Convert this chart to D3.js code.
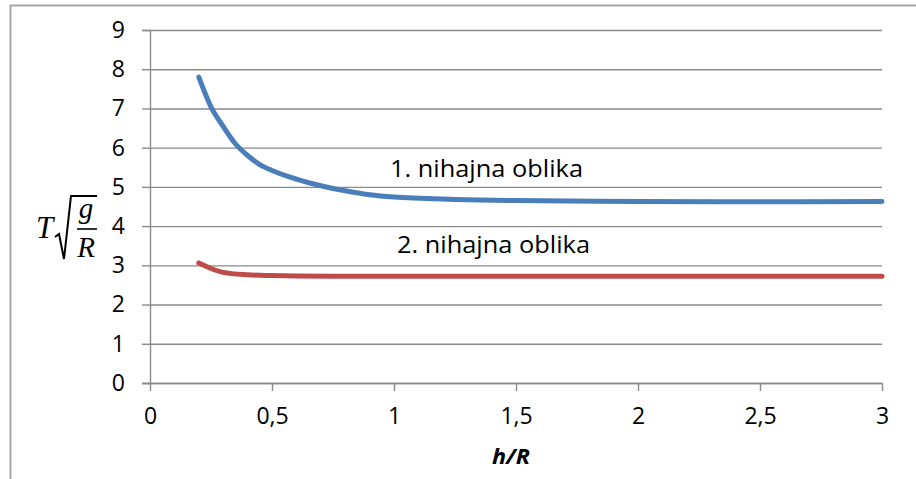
<!DOCTYPE html>
<html>
<head>
<meta charset="utf-8">
<script src="https://cdn.jsdelivr.net/npm/d3@7"></script>
<style>
  html, body { margin: 0; padding: 0; background: #fff; }
  svg { display: block; }
</style>
</head>
<body>
<svg id="chart" width="916" height="479"></svg>
<script>
// Ratio h/R on the horizontal axis
const hMode1 = [0.2, 0.25, 0.3, 0.35, 0.4, 0.45, 0.5, 0.6, 0.7, 0.8, 0.9, 1.0, 1.25, 1.5, 2.0, 2.5, 3.0];
const tMode1 = [7.8, 7.04, 6.54, 6.1, 5.8, 5.57, 5.42, 5.2, 5.03, 4.9, 4.8, 4.74, 4.68, 4.65, 4.63, 4.62, 4.63];

const hMode2 = [0.2, 0.25, 0.3, 0.4, 0.5, 0.6, 0.8, 1.0, 1.5, 2.0, 2.5, 3.0];
const tMode2 = [3.06, 2.92, 2.82, 2.76, 2.74, 2.73, 2.72, 2.72, 2.72, 2.72, 2.72, 2.72];

const xTicks = [0, 0.5, 1, 1.5, 2, 2.5, 3];
const xTickLabels = ["0", "0,5", "1", "1,5", "2", "2,5", "3"];
const yTicks = [0, 1, 2, 3, 4, 5, 6, 7, 8, 9];

const seriesNames = ["1. nihajna oblika", "2. nihajna oblika"];

const svg = d3.select("#chart");
const font = "'Open Sans', Lato, sans-serif";
const gridColor = "#8a8a8a";

const x = d3.scaleLinear().domain([0, 3]).range([150, 882]);
const y = d3.scaleLinear().domain([0, 9]).range([383, 30]);

// outer frame (left and top edges)
svg.append("path")
  .attr("d", "M10.5,479 L10.5,5.5 L916,5.5")
  .attr("fill", "none")
  .attr("stroke", "#a6a6a6")
  .attr("stroke-width", 2);

// horizontal gridlines with left ticks
const yAxis = d3.axisLeft(y)
  .tickValues(yTicks)
  .tickSize(8)
  .tickPadding(17)
  .tickFormat(d3.format("d"));
const gy = svg.append("g").attr("transform", `translate(${x(0)},0)`).call(yAxis);
gy.select(".domain").attr("stroke", gridColor).attr("stroke-width", 1.4);
gy.selectAll(".tick line").attr("stroke", gridColor).attr("stroke-width", 1.4)
  .attr("x2", -8);
gy.selectAll(".tick").append("line")
  .attr("x1", 0).attr("x2", x(3) - x(0))
  .attr("stroke", gridColor).attr("stroke-width", 1.4);
gy.selectAll(".tick text")
  .attr("font-family", font).attr("font-size", 23).attr("fill", "#000");

// x axis
const xAxis = d3.axisBottom(x)
  .tickValues(xTicks)
  .tickSize(8)
  .tickPadding(17)
  .tickSizeOuter(0)
  .tickFormat((d, i) => xTickLabels[i]);
const gx = svg.append("g").attr("transform", `translate(0,${y(0)})`).call(xAxis);
gx.select(".domain").attr("stroke", gridColor).attr("stroke-width", 1.4)
  .attr("d", `M${x(0) - 8},0.5H${x(3)}`);
gx.selectAll(".tick line").attr("stroke", gridColor).attr("stroke-width", 1.4);
gx.selectAll(".tick text")
  .attr("font-family", font).attr("font-size", 23).attr("fill", "#000");

// curves
const line = d3.line()
  .x(d => x(d[0]))
  .y(d => y(d[1]))
  .curve(d3.curveMonotoneX);

const mode1 = hMode1.map((h, i) => [h, tMode1[i]]);
const mode2 = hMode2.map((h, i) => [h, tMode2[i]]);

svg.append("path").datum(mode2)
  .attr("d", line).attr("fill", "none")
  .attr("stroke", "#be4b48").attr("stroke-width", 5)
  .attr("stroke-linecap", "round").attr("stroke-linejoin", "round");

svg.append("path").datum(mode1)
  .attr("d", line).attr("fill", "none")
  .attr("stroke", "#4a7ebb").attr("stroke-width", 5)
  .attr("stroke-linecap", "round").attr("stroke-linejoin", "round");

// series labels
svg.append("text")
  .attr("x", 390).attr("y", 177)
  .attr("font-family", font).attr("font-size", 24)
  .attr("textLength", 193).attr("lengthAdjust", "spacingAndGlyphs")
  .text(seriesNames[0]);
svg.append("text")
  .attr("x", 397).attr("y", 253)
  .attr("font-family", font).attr("font-size", 24)
  .attr("textLength", 193).attr("lengthAdjust", "spacingAndGlyphs")
  .text(seriesNames[1]);

// x axis title
svg.append("text")
  .attr("x", 511).attr("y", 464)
  .attr("text-anchor", "middle")
  .attr("font-family", font).attr("font-size", 21)
  .attr("font-weight", "bold").attr("font-style", "italic")
  .attr("textLength", 38).attr("lengthAdjust", "spacingAndGlyphs")
  .text("h/R");

// y axis title: T sqrt(g/R)
const mathFont = "'Liberation Serif', 'DejaVu Serif', serif";
const yt = svg.append("g");
yt.append("text")
  .attr("x", 36).attr("y", 238)
  .attr("font-family", mathFont).attr("font-size", 31).attr("font-style", "italic")
  .text("T");
yt.append("path")
  .attr("d", "M55,237 L59,234 L64,259 L71,196 L97,196")
  .attr("fill", "none").attr("stroke", "#000").attr("stroke-width", 2)
  .attr("stroke-linejoin", "miter");
yt.append("text")
  .attr("x", 86).attr("y", 218)
  .attr("text-anchor", "middle")
  .attr("font-family", mathFont).attr("font-size", 29).attr("font-style", "italic")
  .text("g");
yt.append("line")
  .attr("x1", 77).attr("x2", 97).attr("y1", 229).attr("y2", 229)
  .attr("stroke", "#000").attr("stroke-width", 1.6);
yt.append("text")
  .attr("x", 86).attr("y", 257)
  .attr("text-anchor", "middle")
  .attr("font-family", mathFont).attr("font-size", 29).attr("font-style", "italic")
  .text("R");
</script>
</body>
</html>
